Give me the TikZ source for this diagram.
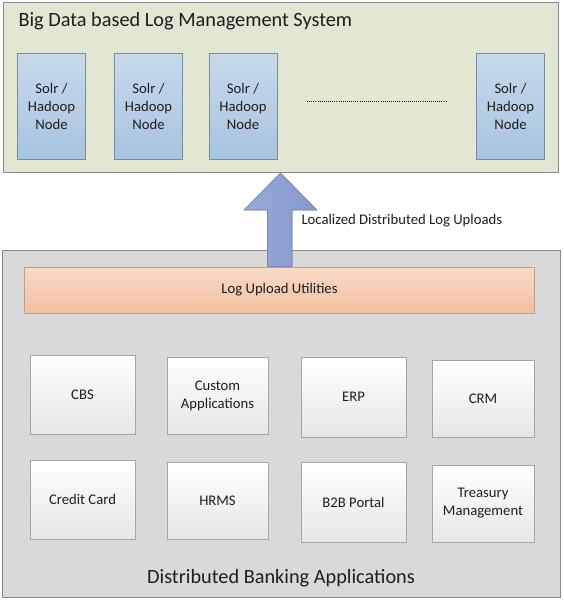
\documentclass[tikz,border=0pt]{standalone}
\usepackage{fontspec}
\setmainfont{Carlito}
\usetikzlibrary{positioning}
\definecolor{txt}{HTML}{1E1E1E}
\definecolor{topfill}{HTML}{E2E7D3}
\definecolor{boxline}{HTML}{8A8A8A}
\definecolor{botfill}{HTML}{D9D9D9}
\definecolor{solrtop}{HTML}{C8DAEC}
\definecolor{solrbot}{HTML}{A8C3DF}
\definecolor{solrline}{HTML}{7C8C9C}
\definecolor{orgtop}{HTML}{F9DAC6}
\definecolor{orgbot}{HTML}{F2C09F}
\definecolor{orgline}{HTML}{B9A294}
\definecolor{apptop}{HTML}{FFFFFF}
\definecolor{appbot}{HTML}{E6E6E6}
\definecolor{appline}{HTML}{A6A6A6}
\definecolor{arrleft}{HTML}{9AABD8}
\definecolor{arrright}{HTML}{8497CB}
\definecolor{arrline}{HTML}{7787BB}
\begin{document}
\begin{tikzpicture}[x=1pt,y=-1pt,
  every node/.style={font=\fontsize{14.7}{18}\selectfont, text=txt, align=center},
  container/.style={draw=boxline, line width=0.8pt},
  solrbox/.style={draw=solrline, line width=0.6pt, top color=solrtop, bottom color=solrbot, minimum width=68pt, minimum height=106pt, inner sep=0pt},
  appbox/.style={draw=appline, line width=0.6pt, top color=apptop, bottom color=appbot, inner sep=0pt},
  utilbox/.style={draw=orgline, line width=0.6pt, top color=orgtop, bottom color=orgbot, inner sep=0pt},
  titletext/.style={font=\fontsize{20.3}{24}\selectfont}
]
\useasboundingbox (0,0) rectangle (564,600);
\fill[white] (0,0) rectangle (564,600);
% containers
\draw[container, fill=topfill] (3,2) rectangle (558,172);
\node[titletext, anchor=base west] (title) at (15,26.5) {Big Data based Log Management System};
\draw[container, fill=botfill] (2.5,250) rectangle (560,597);
\node[titletext, anchor=base] (bottitle) at (281,583) {Distributed Banking Applications};
% solr nodes
\node[solrbox] (s1) at (51.5,106) {Solr /\\Hadoop\\Node};
\node[solrbox] (s2) at (148.5,106) {Solr /\\Hadoop\\Node};
\node[solrbox] (s3) at (243,106) {Solr /\\Hadoop\\Node};
\node[solrbox] (s4) at (510.5,106) {Solr /\\Hadoop\\Node};
\coordinate (d1) at (307,101);
\coordinate (d2) at (446,101);
\draw[line width=0.9pt, dash pattern=on 0.9pt off 1.2pt, txt] (d1) -- (d2);
% utilities
\node[utilbox, minimum width=510pt, minimum height=46pt] (util) at (279.5,290) {Log Upload Utilities};
% arrow
\coordinate (tip) at (280.5,173);
\filldraw[draw=arrline, line width=0.6pt, left color=arrleft, right color=arrright]
  (tip) -- (317,210) -- (292,210) -- (292,266.5) -- (267.5,266.5) -- (267.5,210) -- (244,210) -- cycle;
\node[anchor=west] (lbl) at (298,220.5) {Localized Distributed Log Uploads};
% apps
\node[appbox, minimum width=105pt, minimum height=79pt] (cbs) at (82.5,394.5) {CBS};
\node[appbox, minimum width=101pt, minimum height=77pt] (cust) at (217.5,395.5) {Custom\\Applications};
\node[appbox, minimum width=105pt, minimum height=80pt] (erp) at (353.5,397) {ERP};
\node[appbox, minimum width=102pt, minimum height=77pt] (crm) at (483,398.5) {CRM};
\node[appbox, minimum width=105pt, minimum height=79pt] (cc) at (82.5,499.5) {Credit Card};
\node[appbox, minimum width=101pt, minimum height=77pt] (hrms) at (217.5,500.5) {HRMS};
\node[appbox, minimum width=105pt, minimum height=80pt] (b2b) at (353.5,502) {B2B Portal};
\node[appbox, minimum width=102pt, minimum height=77pt] (tre) at (483,503.5) {Treasury\\Management};
\end{tikzpicture}
\end{document}
